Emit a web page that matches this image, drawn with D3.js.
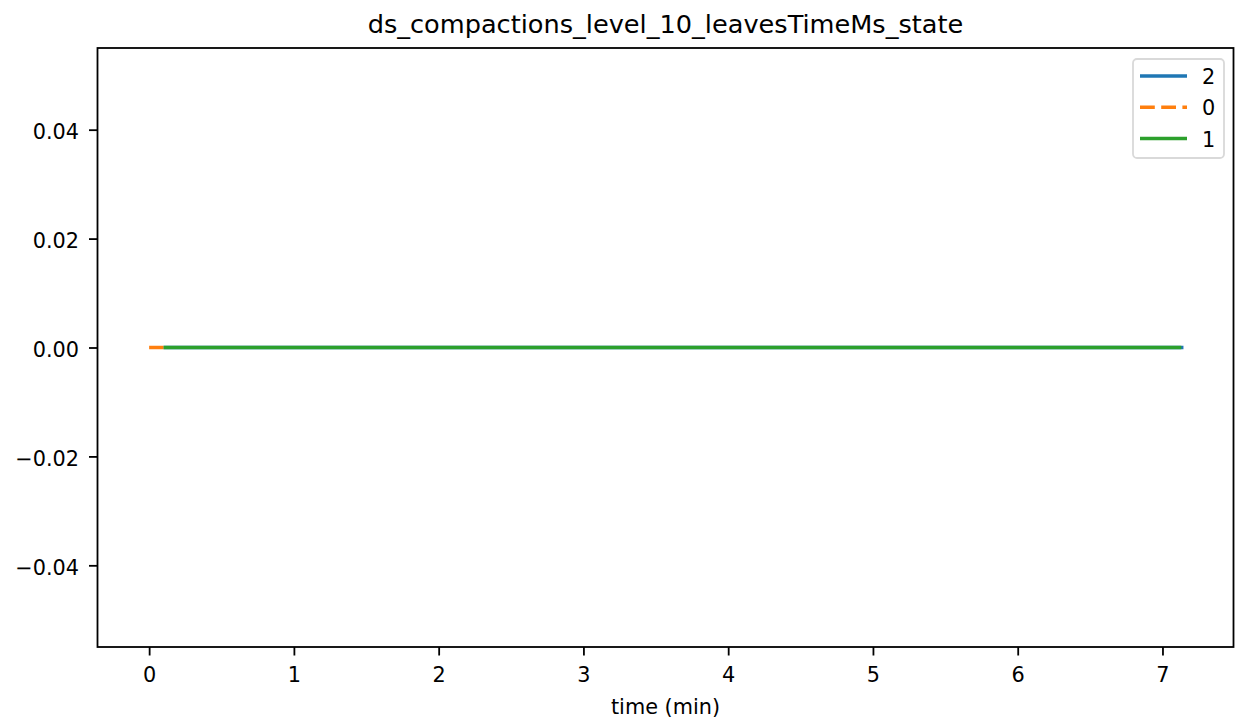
<!DOCTYPE html>
<html><head><meta charset="utf-8">
<script src="https://cdn.jsdelivr.net/npm/d3@7"></script>
<style>body{margin:0;background:#fff;} text{font-family:"DejaVu Sans",sans-serif;fill:#000;}</style>
</head><body>
<svg id="c" width="1237" height="721"></svg>
<script>
const title = "ds_compactions_level_10_leavesTimeMs_state";
const xLabel = "time (min)";
const seriesNames = ["2", "0", "1"];
const seriesColors = ["#1f77b4", "#ff7f0e", "#2ca02c"];
const times2 = [0.10, 1.0, 2.0, 3.0, 4.0, 5.0, 6.0, 7.0, 7.145];
const values2 = [0, 0, 0, 0, 0, 0, 0, 0, 0];
const times0 = [0.0, 0.05, 0.10];
const values0 = [0, 0, 0];
const times1 = [0.10, 1.0, 2.0, 3.0, 4.0, 5.0, 6.0, 7.0, 7.13];
const values1 = [0, 0, 0, 0, 0, 0, 0, 0, 0];
const xTicks = [0, 1, 2, 3, 4, 5, 6, 7];
const yTicks = [-0.04, -0.02, 0.00, 0.02, 0.04];

const svg = d3.select("#c");
const L = 97.5, R = 1233.5, T = 48, B = 647;
const FS = 20.8;
const x = d3.scaleLinear().domain([-0.3567, 7.4907]).range([L, R]);
const y = d3.scaleLinear().domain([-0.055, 0.055]).range([B, T]);

const series = [
  {name: seriesNames[0], color: seriesColors[0], t: times2, v: values2, dash: null},
  {name: seriesNames[1], color: seriesColors[1], t: times0, v: values0, dash: "14.8,6.4"},
  {name: seriesNames[2], color: seriesColors[2], t: times1, v: values1, dash: null}
];
const line = d3.line().x(d => x(d[0])).y(d => y(d[1]));
series.forEach(s => {
  svg.append("path").attr("d", line(s.t.map((t, i) => [t, s.v[i]])))
    .attr("fill", "none").attr("stroke", s.color).attr("stroke-width", 3.5)
    .attr("stroke-dasharray", s.dash);
});

const fmt = v => (v < 0 ? "\u2212" : "") + Math.abs(v).toFixed(2);
const xAxis = svg.append("g").attr("transform", `translate(0,${B})`)
  .call(d3.axisBottom(x).tickValues(xTicks).tickFormat(d3.format("d")).tickSize(8.5).tickPadding(12));
const yAxis = svg.append("g").attr("transform", `translate(${L},0)`)
  .call(d3.axisLeft(y).tickValues(yTicks).tickFormat(fmt).tickSize(8.5).tickPadding(10));
[xAxis, yAxis].forEach(g => {
  g.select(".domain").remove();
  g.selectAll(".tick line").attr("stroke", "#000").attr("stroke-width", 1.8);
  g.selectAll(".tick text").style("font-size", FS + "px").style("font-family", "DejaVu Sans");
});
yAxis.selectAll(".tick text").attr("dy", "0.42em");
svg.append("rect").attr("x", L).attr("y", T).attr("width", R - L).attr("height", B - T)
  .attr("fill", "none").attr("stroke", "#000").attr("stroke-width", 1.8);

svg.append("text").attr("x", (L + R) / 2).attr("y", 33).attr("text-anchor", "middle")
  .style("font-size", "25.6px").text(title);
svg.append("text").attr("x", (L + R) / 2).attr("y", 714).attr("text-anchor", "middle")
  .style("font-size", FS + "px").text(xLabel);

const lg = svg.append("g");
lg.append("rect").attr("x", 1133).attr("y", 59).attr("width", 91).attr("height", 99).attr("rx", 4)
  .attr("fill", "#fff").attr("fill-opacity", 0.8).attr("stroke", "#d9d9d9").attr("stroke-width", 1.8);
series.forEach((s, i) => {
  const yy = 76 + i * 31.3;
  lg.append("line").attr("x1", 1140).attr("x2", 1187).attr("y1", yy).attr("y2", yy)
    .attr("stroke", s.color).attr("stroke-width", 3.5).attr("stroke-dasharray", s.dash);
  lg.append("text").attr("x", 1202).attr("y", yy + 8).style("font-size", FS + "px").text(s.name);
});
</script>
</body></html>
